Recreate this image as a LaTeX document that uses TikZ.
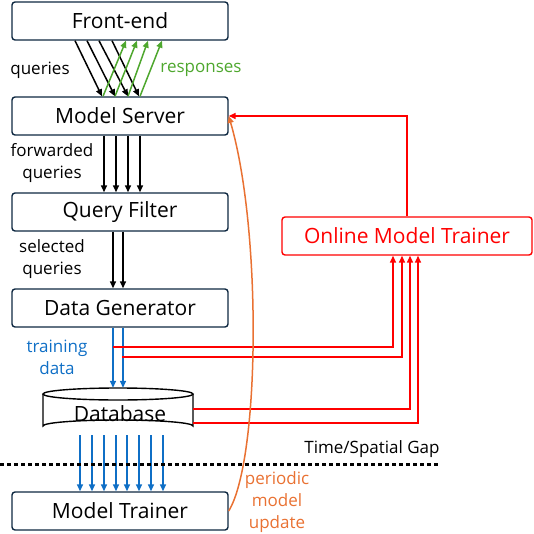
\documentclass[tikz,border=0pt]{standalone}
\usepackage{fontspec}
\setmainfont{Open Sans}
\usetikzlibrary{arrows.meta,calc}
\definecolor{boxdark}{HTML}{0E2841}
\definecolor{ogreen}{HTML}{4EA72E}
\definecolor{oblue}{HTML}{0F6FC6}
\definecolor{ored}{HTML}{FF0000}
\definecolor{oorange}{HTML}{E97132}
\tikzset{
  stagebox/.style={draw=boxdark, line width=1.4pt, rounded corners=3pt, minimum width=216pt, minimum height=38pt, inner sep=0pt, font=\fontsize{21}{24}\selectfont},
  onlinebox/.style={draw=ored, line width=1.4pt, rounded corners=3pt, minimum width=250pt, minimum height=38pt, inner sep=0pt, text=ored, font=\fontsize{21}{24}\selectfont},
  lbl/.style={font=\fontsize{17}{22}\selectfont, align=center, inner sep=0pt},
  flow/.style={line width=1.5pt, -{Triangle[length=7pt,width=6pt]}},
}
\begin{document}
\begin{tikzpicture}[x=1pt,y=-1pt]
\useasboundingbox (0,0) rectangle (534,534);
\node[stagebox] (fe) at (120,21) {Front-end};
\node[stagebox] (ms) at (120,116) {Model Server};
\node[stagebox] (qf) at (120,212) {Query Filter};
\node[stagebox] (dg) at (120,308) {Data Generator};
\node[stagebox] (mt) at (120,511) {Model Trainer};
\node[onlinebox] (omt) at (407,236) {Online Model Trainer};
% database cylinder
\node[minimum width=150pt, minimum height=44pt, inner sep=0pt] (db) at (118,410) {};
\draw[line width=1.4pt, fill=white] (43,394) -- (43,426) arc[start angle=180, end angle=360, x radius=75, y radius=6] -- (193,394);
\draw[line width=1.4pt, fill=white] (118,394) ellipse[x radius=75, y radius=6];
\node[font=\fontsize{21}{24}\selectfont] (dbt) at (120,414) {Database};
% front-end <-> model server
\foreach \a/\b in {-45/-18,-33/-5,-21/8,-8/19}{
  \draw[flow] ([xshift=\a pt]fe.south) -- ([xshift=\b pt]ms.north);
}
\foreach \a/\b in {-17/6,-5/17,8/28,20/42}{
  \draw[flow, ogreen] ([xshift=\a pt]ms.north) -- ([xshift=\b pt]fe.south);
}
\node[lbl] (lq) at (40,70) {queries};
\node[lbl, text=ogreen] (lr) at (201,70) {responses};
% model server -> query filter
\foreach \a in {-16,-4,8,20}{
  \draw[flow] ([xshift=\a pt]ms.south) -- ([xshift=\a pt]qf.north);
}
\node[lbl] (lfq) at (52,163) {forwarded\\queries};
% query filter -> data generator
\foreach \a in {-7,3}{
  \draw[flow] ([xshift=\a pt]qf.south) -- ([xshift=\a pt]dg.north);
}
\node[lbl] (lsq) at (52,259) {selected\\queries};
% data generator -> database
\foreach \a in {-7,3}{
  \draw[flow, oblue] ([xshift=\a pt]dg.south) -- ([xshift=\a pt]dg.south |- db.north);
}
\node[lbl, text=oblue] (ltd) at (57,357) {training\\data};
% red lines to online model trainer
\coordinate (r1) at (113,347);
\coordinate (r2) at (122,357);
\coordinate (r3) at (193,409);
\coordinate (r4) at (193,423);
\draw[flow, color=ored] (r1) -| ([xshift=-14pt]omt.south);
\draw[flow, color=ored] (r2) -| ([xshift=-5pt]omt.south);
\draw[flow, color=ored] (r3) -| ([xshift=3pt]omt.south);
\draw[flow, color=ored] (r4) -| ([xshift=11pt]omt.south);
% online model trainer -> model server
\draw[flow, color=ored] (omt.north) |- (ms.east);
% database -> model trainer
\foreach \a in {-38,-26,-14,-2,9,21,33,45}{
  \draw[flow, oblue] ([xshift=\a pt, yshift=-25pt]db.center) -- ([xshift=\a pt]db.center |- mt.north);
}
% gap line
\coordinate (g1) at (0,464);
\coordinate (g2) at (440,464);
\draw[line width=3pt, dash pattern=on 4pt off 3pt] (g1) -- (g2);
\node[lbl] (lgap) at (372,449) {Time/Spatial Gap};
% periodic model update
\draw[flow, oorange] (mt.east) .. controls (260,460) and (262,230) .. (ms.east);
\node[lbl, text=oorange] (lpu) at (277,502) {periodic\\model\\update};
\end{tikzpicture}
\end{document}
